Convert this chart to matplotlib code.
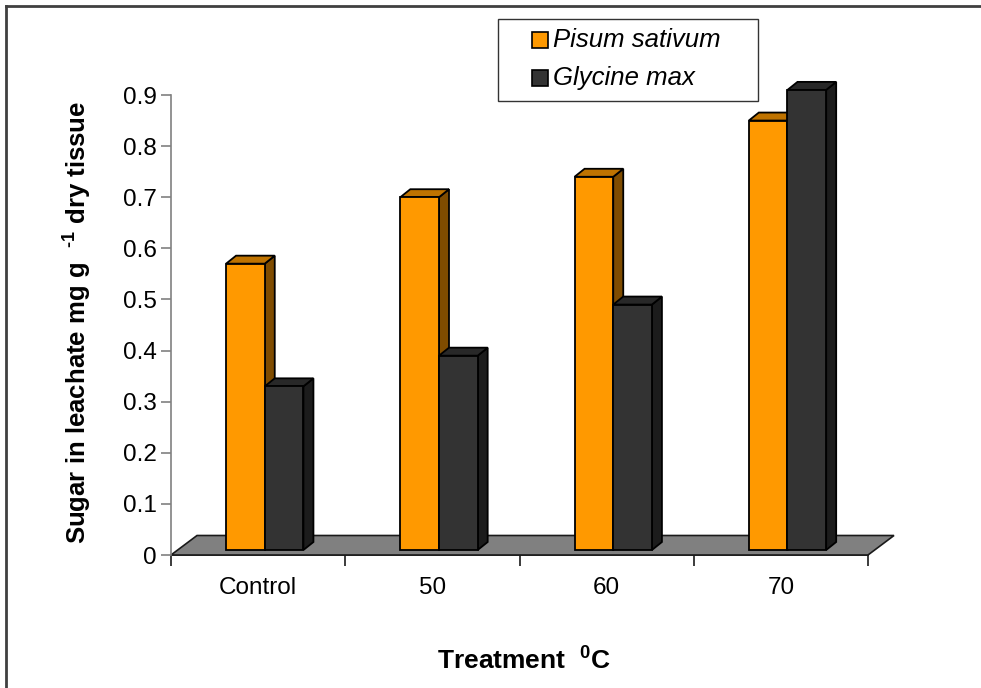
import matplotlib.pyplot as plt
from matplotlib.patches import Polygon, Rectangle
from matplotlib.lines import Line2D
import numpy as np

plt.rcParams['font.family'] = 'Liberation Sans'
plt.rcParams['mathtext.fontset'] = 'custom'
plt.rcParams['mathtext.rm'] = 'Liberation Sans:bold'
plt.rcParams['mathtext.bf'] = 'Liberation Sans:bold'

categories = ['Control', '50', '60', '70']
pisum = [0.57, 0.70, 0.74, 0.85]
glycine = [0.33, 0.39, 0.49, 0.91]
series_names = ['Pisum sativum', 'Glycine max']

# colours for front / top / side faces
pisum_cols = ('#FF9900', '#BF7300', '#7F4C00')
glycine_cols = ('#333333', '#282828', '#1C1C1C')

fig = plt.figure(figsize=(9.81, 6.88), dpi=100)
ax = fig.add_axes([171/981, 133/688, 697/981, 460/688])
ax.set_xlim(0, 4)
ax.set_ylim(0, 0.9)

# pixel offsets converted to data units
px_x = 4/697
px_y = 0.9/460
bar_dx, bar_dy = 10*px_x, 8*px_y
floor_dx, floor_dy = 26*px_x, 19.5*px_y
base = 5*px_y
bw = 0.222
x_off = 0.316

# floor
floor = Polygon([(0, 0), (4, 0), (4+floor_dx, floor_dy), (floor_dx, floor_dy)],
                closed=True, facecolor='#808080', edgecolor='#1a1a1a', lw=1.2,
                clip_on=False, zorder=1)
ax.add_patch(floor)

def bar3d(x0, val, cols, z):
    x1 = x0 + bw
    front = Polygon([(x0, base), (x1, base), (x1, val), (x0, val)], closed=True,
                    fc=cols[0], ec='black', lw=1.3, clip_on=False, zorder=z)
    top = Polygon([(x0, val), (x1, val), (x1+bar_dx, val+bar_dy), (x0+bar_dx, val+bar_dy)],
                  closed=True, fc=cols[1], ec='black', lw=1.3, clip_on=False, zorder=z)
    side = Polygon([(x1, base), (x1+bar_dx, base+bar_dy), (x1+bar_dx, val+bar_dy), (x1, val)],
                   closed=True, fc=cols[2], ec='black', lw=1.3, clip_on=False, zorder=z)
    for p in (side, top, front):
        ax.add_patch(p)

z = 2
for i in range(len(categories)):
    bar3d(i + x_off, pisum[i], pisum_cols, z)
    z += 1
    bar3d(i + x_off + bw, glycine[i], glycine_cols, z)
    z += 1

# axes styling
for s in ['top', 'right']:
    ax.spines[s].set_visible(False)
ax.spines['left'].set_color('#808080')
ax.spines['left'].set_linewidth(1.2)
ax.spines['bottom'].set_color('#1a1a1a')
ax.spines['bottom'].set_linewidth(1.2)
ax.spines['bottom'].set_zorder(0)

ax.set_yticks(np.arange(0, 0.91, 0.1))
ax.set_yticklabels(['0'] + ['%.1f' % v for v in np.arange(0.1, 0.91, 0.1)])
ax.tick_params(axis='y', length=7, width=1.2, color='#808080', labelsize=17.5, pad=3)
ax.set_xticks(np.arange(0, 5))
ax.set_xticklabels([])
ax.set_xticks(np.arange(0.5, 4, 1), minor=True)
ax.set_xticklabels(categories, minor=True)
ax.tick_params(axis='x', which='major', length=8, width=1.2, color='#1a1a1a')
ax.tick_params(axis='x', which='minor', length=0, labelsize=17.5, pad=16)

fig.text(77/981, 1 - 322/688, r'Sugar in leachate mg g  $^{\text{-1}}$ dry tissue',
         rotation=90, ha='center', va='center', fontsize=18.5, fontweight='bold')
fig.text(524/981, 1 - 660/688, r'Treatment  $^{0}$C', ha='center', va='center',
         fontsize=19, fontweight='bold')

# legend box drawn by hand to match the original spacing
fig.add_artist(Rectangle((498/981, 1 - 101/688), 260/981, 82/688, transform=fig.transFigure,
                         fc='white', ec='#333333', lw=1.0))
leg_cols = [pisum_cols[0], glycine_cols[0]]
for k, name in enumerate(series_names):
    yc = 40 + 38*k
    fig.add_artist(Rectangle((532/981, 1 - (yc + 8)/688), 16/981, 16/688,
                             transform=fig.transFigure, fc=leg_cols[k], ec='black', lw=1.2))
    fig.text(553/981, 1 - yc/688, name, fontsize=18.5, style='italic', va='center', ha='left')

# outer border (top and left edges)
fig.add_artist(Line2D([6/981, 1], [1 - 6/688, 1 - 6/688], color='#404040', lw=2,
                      transform=fig.transFigure))
fig.add_artist(Line2D([6/981, 6/981], [0, 1 - 6/688], color='#404040', lw=2,
                      transform=fig.transFigure))

fig.savefig('out.png', dpi=100)
